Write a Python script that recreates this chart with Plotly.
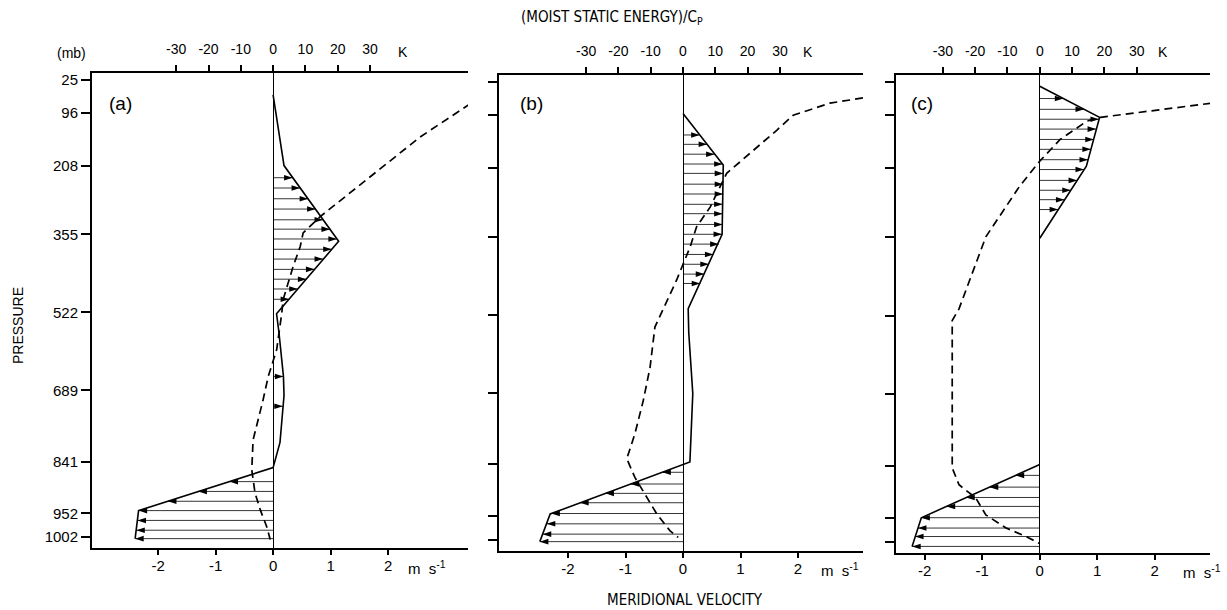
import plotly.graph_objects as go

W, H = 1227, 610
K_PER_MS = 17.8  # scale link between the two x axes (K per m/s)
FONT = "Liberation Sans, Arial, sans-serif"
COND = "DejaVu Sans Condensed, Liberation Sans Narrow, Liberation Sans, sans-serif"

# ---------------- data ----------------
pressure_ticks = [25, 96, 208, 355, 522, 689, 841, 952, 1002]
velocity_ticks = [-2, -1, 0, 1, 2]
velocity_labels = ["-2", "-1", "0", "1", "2"]
energy_ticks = [-30, -20, -10, 0, 10, 20, 30]
energy_labels = ["-30", "-20", "-10", "0", "10", "20", "30"]

# Panel (a)
a_vel_p = [57, 208, 370, 525, 563, 659, 700, 800, 854, 946, 1006]
a_vel_v = [0, 0.19, 1.14, 0.06, 0.10, 0.18, 0.19, 0.12, 0.0, -2.34, -2.40]
a_arrow_p = [234, 256, 279, 301, 324, 344, 365, 387, 408, 430, 451, 472, 494,
             659, 723, 884, 905, 926, 946, 967, 988, 1006]
a_arrow_v = [0.34, 0.47, 0.61, 0.74, 0.87, 0.99, 1.11, 1.02, 0.87, 0.72, 0.58, 0.43, 0.28,
             0.18, 0.17, -0.76, -1.30, -1.83, -2.34, -2.36, -2.38, -2.40]
a_mse_p = [76, 147, 317, 352, 381, 424, 467, 495, 523, 602, 659, 709, 795, 859, 908, 944, 980, 1008]
a_mse_k = [61, 45.5, 14.6, 9.3, 8.4, 6.2, 4.3, 3.1, 2.7, 1.1, -1.5, -3.1, -6.2, -6.6, -5.6, -4.0, -2.0, -0.9]

# Panel (b)
b_vel_p = [92, 202, 350, 509, 560, 690, 836, 947, 1006]
b_vel_v = [0, 0.70, 0.68, 0.09, 0.10, 0.17, 0.12, -2.31, -2.49]
b_arrow_p = [138, 158, 179, 200, 220, 243, 264, 286, 306, 329, 350, 371, 393, 414, 435, 455,
             858, 883, 903, 923, 946, 968, 990, 1006]
b_arrow_v = [0.29, 0.42, 0.55, 0.69, 0.70, 0.70, 0.70, 0.69, 0.69, 0.69, 0.68, 0.62, 0.53, 0.45, 0.37, 0.30,
             -0.36, -0.91, -1.35, -1.79, -2.29, -2.37, -2.44, -2.49]
b_mse_p = [59, 70, 96, 128, 220, 292, 334, 377, 448, 509, 548, 634, 705, 776, 829, 869, 911, 947, 983, 997]
b_mse_k = [55.7, 45.5, 34.1, 29.0, 13.5, 8.4, 4.2, 2.2, -2.0, -6.1, -8.7, -10.2, -12.3, -14.9, -17.4,
           -14.9, -11.2, -8.1, -4.0, -1.5]

# Panel (c)  (None = gap in the velocity profile)
c_vel_p = [34, 100, 204, 357, None, 838, 951, 1012]
c_vel_v = [0, 1.04, 0.81, 0, None, 0, -2.06, -2.22]
c_arrow_p = [60, 83, 104, 125, 147, 168, 190, 211, 234, 255, 275, 296,
             861, 886, 908, 927, 951, 973, 991, 1012]
c_arrow_v = [0.41, 0.77, 1.03, 0.98, 0.94, 0.89, 0.84, 0.77, 0.65, 0.54, 0.43, 0.32,
             -0.42, -0.87, -1.28, -1.62, -2.06, -2.12, -2.17, -2.22]
c_mse_p = [70, 100, 108, 147, 193, 247, 354, 507, 532, 845, 881, 909, 945, 973, 991, 1006]
c_mse_k = [53, 18.8, 14.6, 6.3, 0, -6.3, -16.7, -25, -27.1, -27.1, -25, -19.8, -16.7, -10.4, -4.2, 0]

panels = [
    dict(label="(a)", vp=a_vel_p, vv=a_vel_v, ap=a_arrow_p, av=a_arrow_v, mp=a_mse_p, mk=a_mse_k,
         xr=(-3.15, 3.39), xd=(92, 468), yd=(73, 548), lab=(120, 103), ms=(427, 567), kx=(403, 52)),
    dict(label="(b)", vp=b_vel_p, vv=b_vel_v, ap=b_arrow_p, av=b_arrow_v, mp=b_mse_p, mk=b_mse_k,
         xr=(-3.2, 3.13), xd=(499, 863), yd=(75, 551), lab=(531, 103), ms=(840, 569), kx=(808, 52)),
    dict(label="(c)", vp=c_vel_p, vv=c_vel_v, ap=c_arrow_p, av=c_arrow_v, mp=c_mse_p, mk=c_mse_k,
         xr=(-2.5, 2.96), xd=(896, 1210), yd=(75, 553), lab=(922, 103), ms=(1202, 571), kx=(1163, 52)),
]

P_RANGE = [1026, 10]


def px(x):
    return x / W


def py(y):
    return 1 - y / H


def xid(n):
    return "x" if n == 1 else f"x{n}"


def yid(n):
    return "y" if n == 1 else f"y{n}"


def xkey(n):
    return "xaxis" if n == 1 else f"xaxis{n}"


def ykey(n):
    return "yaxis" if n == 1 else f"yaxis{n}"


def label(x, y, text, font, **kw):
    return dict(x=px(x), y=py(y), xref="paper", yref="paper", text=text, showarrow=False,
                xanchor="center", yanchor="middle", font=font, **kw)


fig = go.Figure()
annotations = []
layout = {}
tickfont = dict(family=FONT, size=14, color="black")
yfont = dict(family=FONT, size=15, color="black")

for i, pn in enumerate(panels):
    nv, nk, ny = 2 * i + 1, 2 * i + 2, i + 1
    vx, kx, yy = xid(nv), xid(nk), yid(ny)

    # arrow shafts (from zero to the profile value at each level)
    sx, sy = [], []
    for p, v in zip(pn["ap"], pn["av"]):
        sx += [0, v, None]
        sy += [p, p, None]
    fig.add_trace(go.Scatter(x=sx, y=sy, mode="lines", xaxis=vx, yaxis=yy,
                             line=dict(color="black", width=0.8), showlegend=False,
                             hoverinfo="skip"))
    # arrow heads
    fig.add_trace(go.Scatter(x=pn["av"], y=pn["ap"], mode="markers", xaxis=vx, yaxis=yy,
                             marker=dict(symbol="arrow", size=9, color="black",
                                         angle=[90 if v > 0 else -90 for v in pn["av"]],
                                         line=dict(width=0)),
                             showlegend=False, hoverinfo="skip"))

    fig.add_trace(go.Scatter(x=pn["vv"], y=pn["vp"], mode="lines", xaxis=vx, yaxis=yy,
                             line=dict(color="black", width=1.6), showlegend=False,
                             connectgaps=False, hoverinfo="skip"))
    fig.add_trace(go.Scatter(x=pn["mk"], y=pn["mp"], mode="lines", xaxis=kx, yaxis=yy,
                             line=dict(color="black", width=1.7, dash="8px,5px"), showlegend=False,
                             hoverinfo="skip"))

    xdom = [px(pn["xd"][0]), px(pn["xd"][1])]
    ydom = [py(pn["yd"][1]), py(pn["yd"][0])]
    layout[xkey(nv)] = dict(domain=xdom, range=list(pn["xr"]), anchor=yy, side="bottom",
                            tickvals=velocity_ticks, ticktext=velocity_labels, ticks="outside",
                            ticklen=5, tickwidth=1.5, tickcolor="black", showline=True, linewidth=2,
                            linecolor="black", showgrid=False, zeroline=True, zerolinewidth=1,
                            zerolinecolor="black", tickfont=yfont, automargin=False,
                            ticklabelstandoff=-2)
    layout[xkey(nk)] = dict(range=[pn["xr"][0] * K_PER_MS, pn["xr"][1] * K_PER_MS], overlaying=vx,
                            anchor=yy, side="top", tickvals=energy_ticks, ticktext=energy_labels,
                            ticks="outside", ticklen=6, tickwidth=1.5, tickcolor="black",
                            showline=True, linewidth=2, linecolor="black", showgrid=False,
                            zeroline=False, tickfont=tickfont, automargin=False,
                            ticklabelstandoff=5)
    layout[ykey(ny)] = dict(domain=ydom, range=P_RANGE, anchor=vx, tickvals=pressure_ticks,
                            ticktext=[str(t) for t in pressure_ticks], ticks="outside", ticklen=9,
                            tickwidth=1.5, tickcolor="black", showline=True, linewidth=2,
                            linecolor="black", showgrid=False, zeroline=False,
                            showticklabels=(i == 0), tickfont=yfont, automargin=False)

    annotations.append(label(pn["lab"][0], pn["lab"][1], pn["label"],
                             dict(family=FONT, size=19, color="black")))
    annotations.append(label(pn["ms"][0], pn["ms"][1], "m  s<sup>-1</sup>", yfont))
    annotations.append(label(pn["kx"][0], pn["kx"][1], "K", tickfont))

annotations += [
    label(71, 53, "(mb)", tickfont),
    label(18, 326, "PRESSURE", dict(family=FONT, size=14, color="black"), textangle=-90),
    label(612, 18, "(MOIST STATIC ENERGY)/C<sub>P</sub>", dict(family=COND, size=15, color="black")),
    label(685, 600, "MERIDIONAL VELOCITY", dict(family=COND, size=15, color="black")),
]

fig.update_layout(width=W, height=H, margin=dict(l=0, r=0, t=0, b=0),
                  paper_bgcolor="white", plot_bgcolor="white",
                  annotations=annotations, showlegend=False, **layout)

fig.write_html("out.html", config={"displayModeBar": False},
               post_script="document.body.style.margin='0px';document.body.style.overflow='hidden';")
